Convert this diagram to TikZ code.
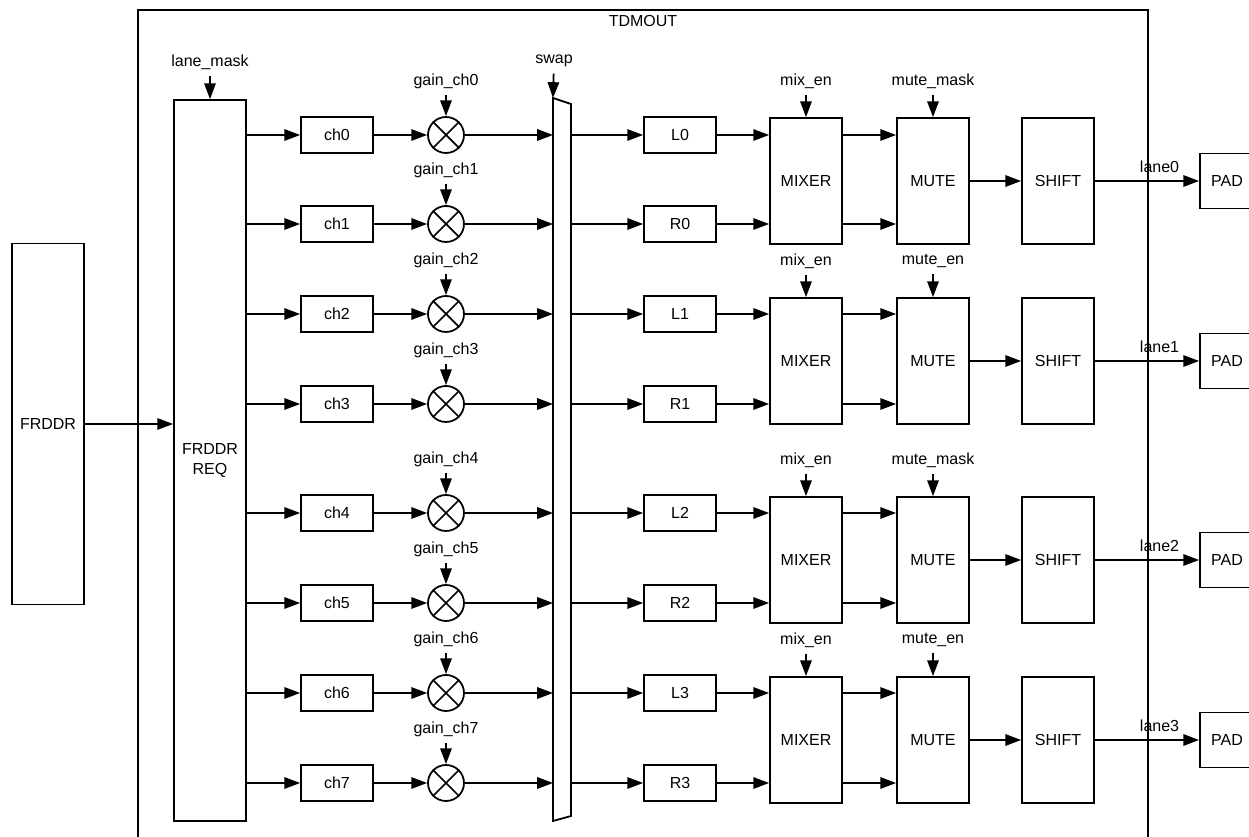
\documentclass[tikz,border=0pt]{standalone}
\usepackage{fontspec}
\setmainfont{Liberation Sans}
\usetikzlibrary{arrows.meta, positioning, calc}

\begin{document}
\begin{tikzpicture}[
        x=0.02cm, y=-0.02cm, line width=1pt,
        font=\fontsize{9.1}{11}\selectfont,
        blk/.style={rectangle, draw, minimum width=1.44cm, inner sep=0pt},
        chbox/.style={blk, minimum height=0.72cm},
        tallbox/.style={blk, minimum height=2.52cm},
        padbox/.style={blk, minimum width=1.08cm, minimum height=1.1cm},
        mult/.style={circle, draw, minimum size=0.72cm, inner sep=0pt},
        sig/.style={-{Triangle[length=9pt, width=6.5pt]}}
    ]
        \useasboundingbox (0,0) rectangle (1249,837);

        % Frame
        \draw[line width=0.8pt] (138,10) rectangle (1148,870);
        \node (tdmout) at (643,21) {TDMOUT};

        % Source and request
        \node (frddr) [blk, minimum height=7.22cm] at (48,424) {FRDDR};
        \node (req) [blk, minimum height=14.42cm, align=center] at (210,460.5) {FRDDR\\REQ};
        \node (lanemask) at (210,62) {lane\_mask};
        \draw [sig] (frddr.east) -- (frddr.east -| req.west);
        \draw [sig] (lanemask) -- (req);

        % Swap mux
        \coordinate (muxtl) at (553,98);
        \coordinate (muxtr) at (571,104);
        \coordinate (muxbr) at (571,816);
        \coordinate (muxbl) at (553,821);
        \draw (muxtl) -- (muxtr) -- (muxbr) -- (muxbl) -- cycle;
        \node (swap) at (554,61) {swap};
        \draw [sig] (swap) -- (muxtl);

        % Channels
        \foreach \i/\y in {0/135,1/224,2/314,3/404,4/513,5/603,6/693,7/783} {
            \node (ch\i) [chbox] at (337,\y) {ch\i};
            \node (m\i) [mult] at (446,\y) {};
            \draw (m\i.north west) -- (m\i.south east) (m\i.north east) -- (m\i.south west);
            \node (g\i) at (446,\y-54) {gain\_ch\i};
            \draw [sig] (g\i) -- (m\i);
            \draw [sig] (ch\i.west -| req.east) -- (ch\i);
            \draw [sig] (ch\i) -- (m\i);
            \draw [sig] (m\i) -- (m\i -| muxtl);
        }

        % Swapped outputs
        \foreach \n/\y in {L0/135,R0/224,L1/314,R1/404,L2/513,R2/603,L3/693,R3/783} {
            \node (\n) [chbox] at (680,\y) {\n};
            \draw [sig] (\n.west -| muxtr) -- (\n);
        }

        % Lanes
        \foreach \k/\y/\mt in {0/181/mute\_mask, 1/361/mute\_en, 2/560/mute\_mask, 3/740/mute\_en} {
            \node (mix\k) [tallbox] at (806,\y) {MIXER};
            \node (mute\k) [tallbox] at (933,\y) {MUTE};
            \node (shift\k) [tallbox] at (1058,\y) {SHIFT};
            \node (pad\k) [padbox] at (1227,\y) {PAD};
            \node (mixen\k) at (806,\y-100) {mix\_en};
            \node (mt\k) at (933,\y-100) {\mt};
            \draw [sig] (mixen\k) -- (mix\k);
            \draw [sig] (mt\k) -- (mute\k);
            \draw [sig] (L\k) -- (L\k -| mix\k.west);
            \draw [sig] (R\k) -- (R\k -| mix\k.west);
            \draw [sig] (L\k -| mix\k.east) -- (L\k -| mute\k.west);
            \draw [sig] (R\k -| mix\k.east) -- (R\k -| mute\k.west);
            \draw [sig] (mute\k) -- (shift\k);
            \draw [sig] (shift\k) -- node[above, pos=0.62, yshift=1pt] {lane\k} (pad\k);
        }
    \end{tikzpicture}
\end{document}
